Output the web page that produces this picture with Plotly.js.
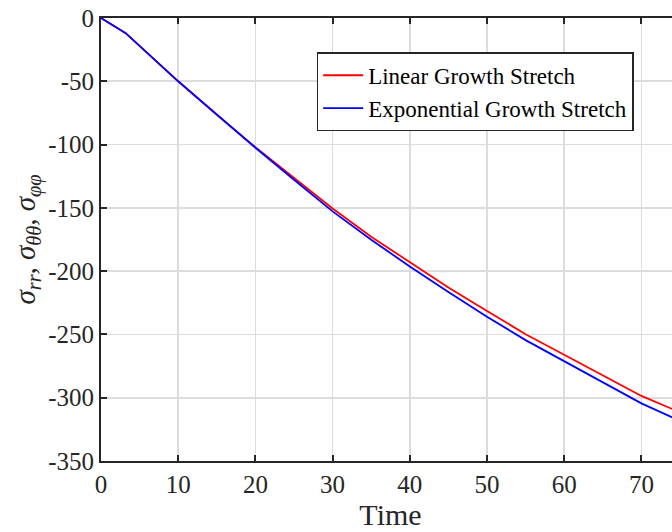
<!DOCTYPE html>
<html>
<head>
<meta charset="utf-8">
<script src="https://cdn.plot.ly/plotly-3.0.1.min.js"></script>
<style>
html, body { margin: 0; padding: 0; overflow: hidden; background: #fff; }
#chart { width: 700px; height: 532px; }
</style>
</head>
<body>
<div id="chart"></div>
<script>
const time = [0, 3.2, 10, 15, 20, 25, 30, 35, 40, 45, 50, 55, 60, 65, 70, 75];
const linearStretch = [0, -12, -50, -76.5, -102, -126.5, -150.5, -172.8, -193, -213, -231.5, -249.8, -266, -282.5, -298.6, -311.5];
const exponentialStretch = [0, -12, -50, -76.5, -102.5, -127.8, -152.8, -175.2, -196.3, -216.5, -236, -254.5, -271.2, -288, -304.5, -318.3];
const seriesNames = ['Linear Growth Stretch', 'Exponential Growth Stretch'];
const xTickVals = [0, 10, 20, 30, 40, 50, 60, 70];
const xTickText = ['0', '10', '20', '30', '40', '50', '60', '70'];
const yTickVals = [0, -50, -100, -150, -200, -250, -300, -350];
const yTickText = ['0', '-50', '-100', '-150', '-200', '-250', '-300', '-350'];

const font = 'Liberation Serif, Times New Roman, serif';
const axisColor = '#262626';

const traces = [
  { x: time, y: linearStretch, name: seriesNames[0], mode: 'lines',
    line: { color: '#ff0000', width: 1.8 } },
  { x: time, y: exponentialStretch, name: seriesNames[1], mode: 'lines',
    line: { color: '#0000ff', width: 1.8 } }
];

const axisCommon = {
  showline: true, linecolor: axisColor, linewidth: 2,
  ticks: 'inside', ticklen: 6, tickwidth: 2, tickcolor: axisColor,
  mirror: 'ticks',
  showgrid: true, gridcolor: '#dcdcdc', gridwidth: 1.6,
  zeroline: false,
  tickfont: { family: font, size: 25, color: axisColor }
};

const layout = {
  width: 700, height: 532,
  margin: { l: 101, r: 20, t: 18, b: 71 },
  paper_bgcolor: '#ffffff', plot_bgcolor: '#ffffff',
  font: { family: font, color: axisColor },
  showlegend: true,
  legend: {
    x: 0.3725, y: 0.9226, xanchor: 'left', yanchor: 'top',
    bgcolor: '#ffffff', bordercolor: axisColor, borderwidth: 1.5,
    font: { family: font, size: 23, color: '#000000' },
    itemwidth: 40,
    tracegroupgap: 0
  },
  xaxis: Object.assign({}, axisCommon, {
    range: [0, 75],
    tickmode: 'array', tickvals: xTickVals, ticktext: xTickText,
    title: { text: 'Time', font: { family: font, size: 30, color: axisColor }, standoff: 2 }
  }),
  yaxis: Object.assign({}, axisCommon, {
    range: [-350, 0],
    tickmode: 'array', tickvals: yTickVals, ticktext: yTickText,
    title: { text: '<i>σ<sub>rr</sub></i>, <i>σ<sub>θθ</sub></i>, <i>σ<sub>φφ</sub></i>',
      font: { family: font, size: 29, color: axisColor }, standoff: 4 }
  })
};

Plotly.newPlot('chart', traces, layout, { staticPlot: true, displayModeBar: false });
</script>
</body>
</html>
